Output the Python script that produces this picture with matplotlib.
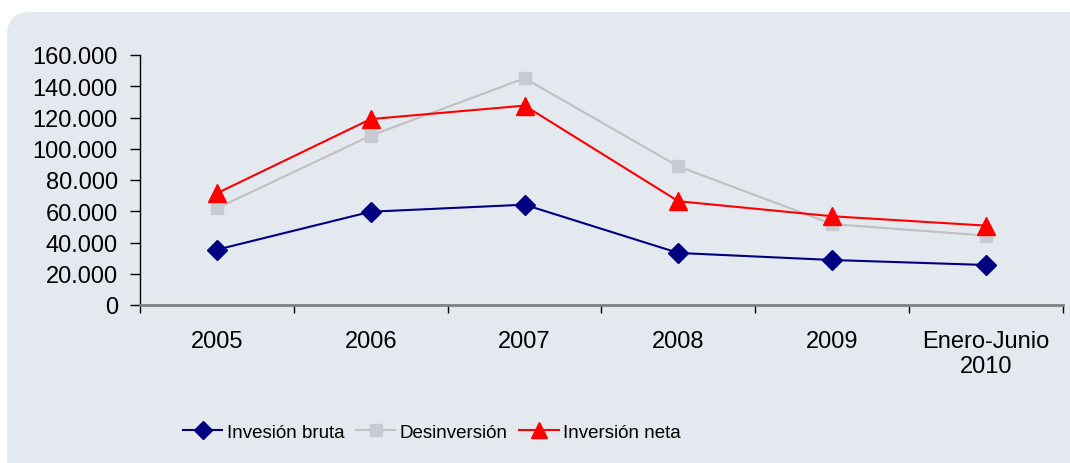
import matplotlib.pyplot as plt
from matplotlib.patches import FancyBboxPatch
from matplotlib.ticker import FuncFormatter, FixedLocator
import numpy as np

plt.rcParams['font.family'] = ['Liberation Sans', 'DejaVu Sans']

# datos (miles)
categorias = ['2005', '2006', '2007', '2008', '2009', 'Enero-Junio\n2010']
inv_bruta = [35400, 59700, 64200, 33300, 28800, 25600]
desinversion = [61900, 108400, 145100, 88700, 51800, 44400]
inv_neta = [71500, 119000, 127600, 66400, 56800, 50800]

fondo = '#E4E9F0'

fig = plt.figure(figsize=(10.7, 4.64), dpi=100)
fig.patch.set_facecolor('white')

# caja redondeada de fondo
caja = FancyBboxPatch((7/1070, -0.1), 1.2, 1 - 13/464 + 0.1,
                      boxstyle='round,pad=0,rounding_size=0.022',
                      transform=fig.transFigure, facecolor=fondo,
                      edgecolor='none', zorder=-5,
                      mutation_aspect=1070/464)
fig.patches.append(caja)

ax = fig.add_axes([140/1070, 1 - 306/464, (1063 - 140)/1070, 250/464])
ax.set_facecolor('none')
ax.set_zorder(2)

x = np.arange(len(categorias))
ax.plot(x, inv_bruta, color='#000080', lw=1.5, marker='D', ms=10,
        mfc='#000080', mec='#000080', label='Invesión bruta', zorder=3)
ax.plot(x, desinversion, color='#C0C0C0', lw=1.5, marker='s', ms=9,
        mfc='#C6CBD2', mec='#C6CBD2', label='Desinversión', zorder=2)
ax.plot(x, inv_neta, color='#FF0000', lw=1.5, marker='^', ms=13,
        mfc='#FF0000', mec='#FF0000', label='Inversión neta', zorder=4)

ax.set_xlim(-0.5, len(categorias) - 0.5)
ax.set_ylim(0, 160000)
ax.set_yticks(np.arange(0, 160001, 20000))
ax.yaxis.set_major_formatter(FuncFormatter(
    lambda v, p: '0' if v == 0 else '{:,.0f}'.format(v).replace(',', '.')))

# categorias centradas, ticks en los limites
ax.set_xticks(x)
ax.set_xticklabels(categorias)
ax.xaxis.set_minor_locator(FixedLocator(np.arange(-0.5, len(categorias), 1)))
ax.tick_params(axis='x', which='major', length=0, pad=18, labelsize=17)
ax.tick_params(axis='x', which='minor', length=6, width=1, color='black', direction='out')
ax.tick_params(axis='y', length=7, width=1, labelsize=17, pad=9)

for s in ['top', 'right']:
    ax.spines[s].set_visible(False)
ax.spines['left'].set_color('black')
ax.spines['left'].set_linewidth(1)
ax.spines['bottom'].set_color('#808080')
ax.spines['bottom'].set_linewidth(2)

leg = fig.legend(loc='center', bbox_to_anchor=(432/1070, 1 - 433/464),
                 ncol=3, frameon=False, fontsize=13.5, handlelength=2.1,
                 columnspacing=0.6, handletextpad=0.25, markerscale=0.9)

fig.savefig('out.png', dpi=100, facecolor='white')
